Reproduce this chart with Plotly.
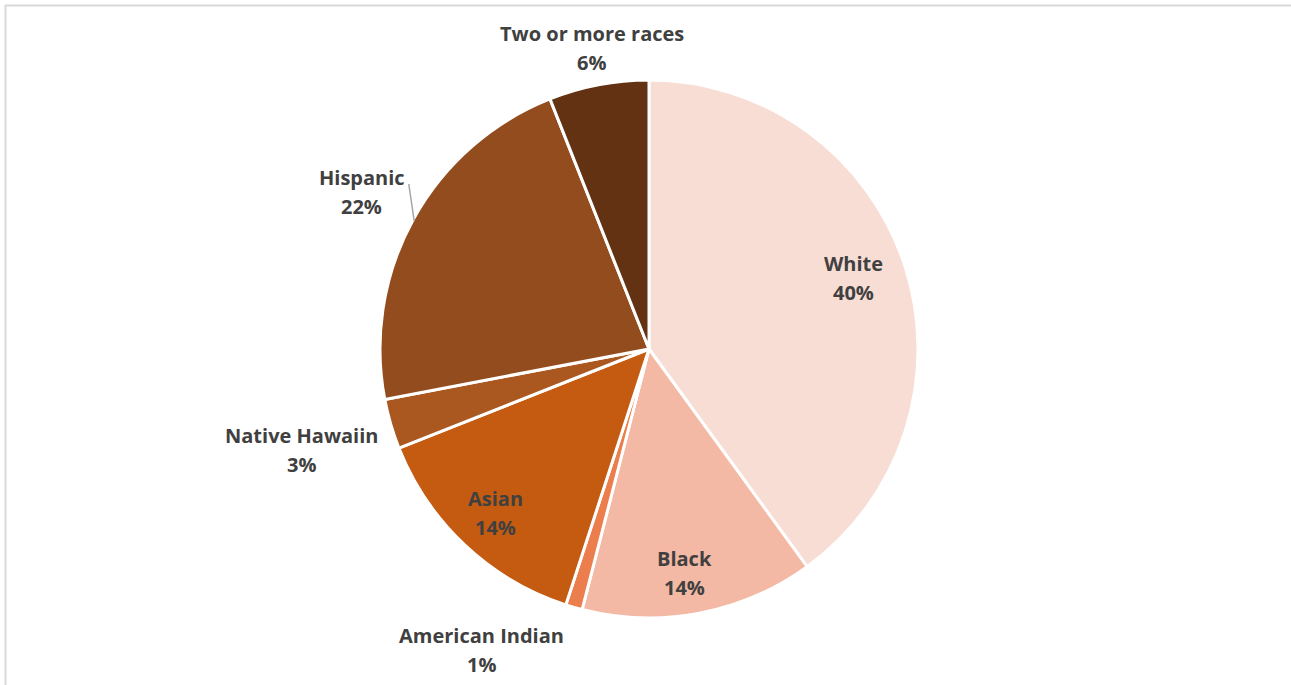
import math
import plotly.graph_objects as go

# Share of students by race / ethnicity (percent)
categories = ["White", "Black", "American Indian", "Asian",
              "Native Hawaiin", "Hispanic", "Two or more races"]
shares = [40, 14, 1, 14, 3, 22, 6]
slice_colors = ["#F8DDD5", "#F4B9A4", "#EC7D4D", "#C55A11",
                "#AA5720", "#934C1D", "#633212"]

W, H = 1291, 685
CX, CY, R = 649, 349, 269          # pie centre and radius in pixels

# label placement: radial distance (in radii) and a small pixel nudge
label_style = {
    "White":             (0.80, 0, -4),
    "Black":             (0.84, -7, 2),
    "American Indian":   (1.15, -81, 4),
    "Asian":             (0.836, 0, 0),
    "Native Hawaiin":    (1.345, 0, 0),
    "Hispanic":          (1.21, -2, 0),
    "Two or more races": (1.14, 0, 0),
}
LINE_GAP = 14.5
FONT = "Open Sans"
TEXT_COLOR = "#404040"


def px_to_paper(x, y):
    return x / W, 1 - y / H


def polar_px(theta_deg, frac):
    t = math.radians(theta_deg)
    return CX + R * frac * math.sin(t), CY - R * frac * math.cos(t)


fig = go.Figure(go.Pie(
    labels=categories,
    values=shares,
    sort=False,
    direction="clockwise",
    rotation=0,
    textinfo="none",
    hoverinfo="label+percent",
    marker=dict(colors=slice_colors, line=dict(color="white", width=3)),
    domain=dict(x=[(CX - R) / W, (CX + R) / W],
                y=[1 - (CY + R) / H, 1 - (CY - R) / H]),
    showlegend=False,
))

total = sum(shares)
annotations = []
shapes = []
cum = 0
for name, val in zip(categories, shares):
    mid = (cum + val / 2) / total * 360
    cum += val
    frac, dx, dy = label_style[name]
    lx, ly = polar_px(mid, frac)
    lx += dx
    ly += dy
    for txt, off in ((name, -LINE_GAP), (f"{round(val / total * 100)}%", LINE_GAP)):
        px, py = px_to_paper(lx, ly + off)
        annotations.append(dict(
            x=px, y=py, xref="paper", yref="paper", text=f"<b>{txt}</b>",
            showarrow=False, xanchor="center", yanchor="middle",
            font=dict(family=FONT, size=20, color=TEXT_COLOR),
        ))
    if name == "Hispanic":
        ex, ey = polar_px(mid, 1.0)
        x0, y0 = px_to_paper(ex + 1, ey + 2)
        x1, y1 = px_to_paper(lx + 47, ly - 8)
        shapes.append(dict(type="line", xref="paper", yref="paper",
                           x0=x0, y0=y0, x1=x1, y1=y1,
                           line=dict(color="#A6A6A6", width=1.5)))

# chart-area frame
shapes.append(dict(type="line", xref="paper", yref="paper",
                   x0=5 / W, y0=1 - 5.5 / H, x1=1.01, y1=1 - 5.5 / H,
                   line=dict(color="#D9D9D9", width=2)))
shapes.append(dict(type="line", xref="paper", yref="paper",
                   x0=5.5 / W, y0=1 - 5 / H, x1=5.5 / W, y1=-0.01,
                   line=dict(color="#D9D9D9", width=2)))

fig.update_layout(
    width=W, height=H,
    margin=dict(l=0, r=0, t=0, b=0),
    paper_bgcolor="white",
    plot_bgcolor="white",
    annotations=annotations,
    shapes=shapes,
)

fig.write_html("out.html")
